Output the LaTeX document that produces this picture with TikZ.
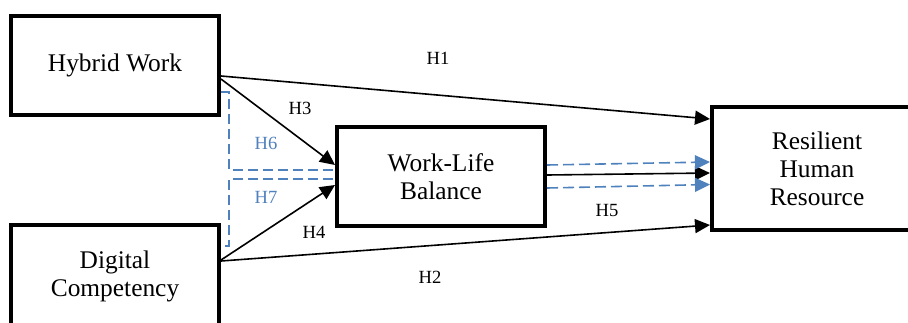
\documentclass[tikz,border=0pt]{standalone}
\usepackage{fontspec}
\setmainfont{Liberation Serif}
\usetikzlibrary{arrows.meta,calc}
\definecolor{medblue}{RGB}{79,129,189}
\begin{document}
\begin{tikzpicture}[x=0.5pt,y=-0.5pt,
  box/.style={draw,line width=2pt,align=center,inner sep=0pt,
    font=\fontsize{12.7}{14}\selectfont},
  link/.style={line width=0.8pt,-{Triangle[length=7.5pt,width=7pt]}},
  medlink/.style={medblue,line width=0.8pt,dash pattern=on 5.5pt off 2.5pt,
    -{Triangle[length=7.5pt,width=7pt]}},
  medpath/.style={medblue,line width=0.8pt,dash pattern=on 5pt off 2.5pt},
  hyp/.style={font=\fontsize{9.3}{11}\selectfont,inner sep=1pt},
  medhyp/.style={hyp,text=medblue}]
\useasboundingbox (0,0) rectangle (908,322);
\clip (0,0) rectangle (908,322);

% constructs
\node[box,minimum width=104pt,minimum height=49.5pt] (hw) at (115,65) {Hybrid Work};
\node[box,minimum width=104pt,minimum height=51.5pt] (dc) at (115,276.5) {Digital\\Competency};
\node[box,minimum width=104pt,minimum height=49.5pt] (wlb) at (441,176.5) {Work-Life\\Balance};
\node[box,minimum width=105pt,minimum height=61.5pt] (rhr) at (817,168.5) {Resilient\\Human\\Resource};

% direct paths
\draw[link] ($(hw.east)+(0,11)$) -- ($(rhr.west)+(0,-49.5)$);
\draw[link] ($(hw.east)+(0,14)$) -- ($(wlb.west)+(0,-11.5)$);
\draw[link] ($(dc.east)+(0,-16.5)$) -- ($(wlb.west)+(0,8.5)$);
\draw[link] ($(dc.east)+(0,-15.5)$) -- ($(rhr.west)+(0,56.5)$);
\draw[link] ($(wlb.east)+(0,-1.5)$) -- ($(rhr.west)+(0,4.5)$);

% mediated paths
\draw[medlink] ($(wlb.east)+(0,-11.5)$) -- ($(rhr.west)+(0,-6.5)$);
\draw[medlink] ($(wlb.east)+(0,11.5)$) -- ($(rhr.west)+(0,16)$);
\draw[medpath] ($(hw.east)+(0,27)$) -- ++(8,0) |- ($(wlb.west)+(-2,-6.5)$);
\draw[medpath] ($(wlb.west)+(-2,2.5)$) -| ($(dc.east)+(8,-30.5)$) -- ($(dc.east)+(0,-30.5)$);

% hypothesis labels
\node[hyp] (h1) at (438,58) {H1};
\node[hyp] (h2) at (430,277) {H2};
\node[hyp] (h3) at (300,108) {H3};
\node[hyp] (h4) at (314,232) {H4};
\node[hyp] (h5) at (607,210) {H5};
\node[medhyp] (h6) at (266,143) {H6};
\node[medhyp] (h7) at (266,197) {H7};
\end{tikzpicture}
\end{document}
